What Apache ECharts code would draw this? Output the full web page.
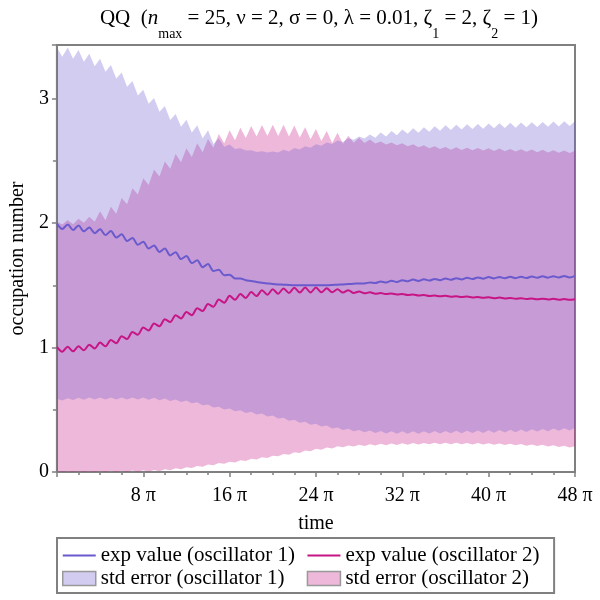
<!DOCTYPE html>
<html><head><meta charset="utf-8">
<script src="https://cdn.jsdelivr.net/npm/echarts@6/dist/echarts.min.js"></script>
<style>html,body{margin:0;padding:0;background:#fff}#c{width:600px;height:600px}</style>
</head><body><div id="c"></div>
<script>
// time in units of pi
const times = [0,0.5,1,1.5,2,2.5,3,3.5,4,4.5,5,5.5,6,6.5,7,7.5,8,8.5,9,9.5,10,10.5,11,11.5,12,12.5,13,13.5,14,14.5,15,15.5,16,16.5,17,17.5,18,18.5,19,19.5,20,20.5,21,21.5,22,22.5,23,23.5,24,24.5,25,25.5,26,26.5,27,27.5,28,28.5,29,29.5,30,30.5,31,31.5,32,32.5,33,33.5,34,34.5,35,35.5,36,36.5,37,37.5,38,38.5,39,39.5,40,40.5,41,41.5,42,42.5,43,43.5,44,44.5,45,45.5,46,46.5,47,47.5,48];
const exp1 = [1.995,1.952,1.988,1.944,1.98,1.933,1.965,1.918,1.95,1.903,1.935,1.883,1.91,1.855,1.88,1.825,1.85,1.795,1.82,1.768,1.795,1.74,1.765,1.71,1.735,1.678,1.70,1.645,1.67,1.615,1.625,1.58,1.585,1.555,1.555,1.54,1.535,1.527,1.52,1.515,1.51,1.507,1.505,1.502,1.50,1.50,1.50,1.50,1.50,1.50,1.50,1.502,1.505,1.507,1.51,1.512,1.515,1.515,1.523,1.518,1.531,1.522,1.536,1.527,1.541,1.532,1.546,1.535,1.548,1.538,1.551,1.541,1.554,1.544,1.557,1.547,1.56,1.55,1.563,1.553,1.566,1.555,1.567,1.556,1.568,1.557,1.569,1.558,1.571,1.56,1.572,1.561,1.573,1.562,1.574,1.563,1.576];
const exp2 = [1.005,0.966,1.007,0.969,1.01,0.977,1.023,0.992,1.04,1.01,1.06,1.035,1.09,1.068,1.125,1.103,1.16,1.137,1.193,1.17,1.227,1.204,1.26,1.233,1.285,1.26,1.315,1.293,1.35,1.328,1.385,1.36,1.415,1.383,1.43,1.398,1.445,1.413,1.46,1.424,1.468,1.432,1.475,1.438,1.48,1.441,1.482,1.442,1.482,1.443,1.476,1.443,1.468,1.441,1.46,1.438,1.45,1.435,1.443,1.432,1.437,1.429,1.433,1.426,1.43,1.422,1.426,1.418,1.422,1.414,1.418,1.411,1.415,1.408,1.412,1.405,1.409,1.402,1.406,1.399,1.403,1.396,1.401,1.394,1.398,1.391,1.396,1.389,1.393,1.387,1.392,1.386,1.391,1.384,1.389,1.383,1.388];
const upper1 = [3.41,3.335,3.41,3.32,3.39,3.295,3.36,3.26,3.32,3.215,3.27,3.16,3.21,3.095,3.14,3.025,3.07,2.958,3.005,2.893,2.94,2.828,2.875,2.773,2.83,2.728,2.785,2.678,2.745,2.635,2.68,2.613,2.63,2.595,2.60,2.583,2.585,2.571,2.577,2.566,2.575,2.566,2.588,2.575,2.602,2.59,2.617,2.605,2.632,2.62,2.647,2.635,2.662,2.651,2.68,2.668,2.695,2.678,2.712,2.685,2.728,2.694,2.74,2.706,2.752,2.717,2.761,2.726,2.77,2.734,2.778,2.742,2.785,2.747,2.789,2.751,2.793,2.755,2.796,2.758,2.80,2.761,2.802,2.764,2.805,2.766,2.807,2.769,2.81,2.771,2.812,2.774,2.815,2.776,2.817,2.779,2.82];
const lower1 = [0.588,0.575,0.593,0.579,0.596,0.581,0.598,0.582,0.598,0.582,0.598,0.582,0.598,0.582,0.598,0.582,0.598,0.581,0.596,0.577,0.59,0.571,0.583,0.563,0.575,0.552,0.561,0.536,0.543,0.518,0.525,0.502,0.51,0.487,0.496,0.474,0.483,0.461,0.47,0.446,0.453,0.429,0.436,0.412,0.42,0.396,0.403,0.38,0.388,0.365,0.373,0.35,0.358,0.337,0.348,0.327,0.338,0.32,0.333,0.313,0.33,0.309,0.328,0.308,0.327,0.307,0.327,0.308,0.328,0.309,0.329,0.31,0.33,0.311,0.331,0.312,0.332,0.313,0.333,0.314,0.335,0.316,0.337,0.318,0.339,0.32,0.341,0.322,0.343,0.325,0.346,0.328,0.349,0.331,0.352,0.334,0.355];
const upper2 = [2.01,1.988,2.025,1.99,2.035,2.003,2.05,2.01,2.095,2.023,2.13,2.075,2.20,2.15,2.28,2.23,2.36,2.305,2.43,2.373,2.495,2.435,2.555,2.488,2.60,2.53,2.64,2.568,2.675,2.605,2.715,2.64,2.745,2.665,2.765,2.683,2.78,2.694,2.787,2.699,2.79,2.70,2.789,2.696,2.783,2.687,2.77,2.673,2.755,2.658,2.74,2.643,2.725,2.636,2.702,2.644,2.685,2.642,2.67,2.638,2.655,2.631,2.647,2.624,2.64,2.616,2.632,2.609,2.625,2.601,2.617,2.594,2.61,2.589,2.608,2.587,2.605,2.584,2.603,2.582,2.60,2.579,2.598,2.577,2.595,2.574,2.593,2.572,2.59,2.569,2.588,2.567,2.585,2.564,2.583,2.562,2.58];
const lower2 = [0.006,0,0.006,0,0.006,0,0.006,0,0.008,0,0.01,0,0.011,0,0.012,0.001,0.014,0.003,0.016,0.007,0.022,0.014,0.03,0.022,0.038,0.032,0.049,0.043,0.061,0.055,0.072,0.066,0.083,0.077,0.094,0.088,0.106,0.1,0.118,0.113,0.131,0.126,0.144,0.139,0.158,0.153,0.172,0.167,0.186,0.179,0.196,0.189,0.206,0.198,0.213,0.204,0.219,0.209,0.223,0.213,0.226,0.215,0.228,0.217,0.23,0.219,0.232,0.221,0.233,0.222,0.234,0.222,0.234,0.222,0.234,0.222,0.233,0.221,0.232,0.22,0.231,0.218,0.229,0.216,0.227,0.214,0.224,0.211,0.221,0.208,0.218,0.204,0.214,0.2,0.21,0.196,0.206];
const xTickLabels = ['', '8 π', '16 π', '24 π', '32 π', '40 π', '48 π'];
const yTickLabels = ['0', '1', '2', '3'];
const seriesNames = ['exp value (oscillator 1)', 'std error (oscillator 1)', 'exp value (oscillator 2)', 'std error (oscillator 2)'];

const FONT = 'Liberation Serif';
const C1 = '#6a5acd', C2 = '#c71585';
const F1 = 'rgba(106,90,205,0.3)', F2 = 'rgba(199,21,133,0.3)';
const GRAY = '#808080';

function band(name, lower, upper, fill) {
  const rows = times.map((t, i) => [t, lower[i], upper[i]]);
  return {
    type: 'custom', name: name, data: rows, encode: { x: 0, y: [1, 2] },
    itemStyle: { color: fill }, silent: true,
    renderItem: function (params, api) {
      if (params.dataIndex !== 0) return null;
      const pts = [];
      for (let i = 0; i < rows.length; i++) pts.push(api.coord([rows[i][0], rows[i][2]]));
      for (let i = rows.length - 1; i >= 0; i--) pts.push(api.coord([rows[i][0], rows[i][1]]));
      return { type: 'polygon', shape: { points: pts }, style: { fill: fill, stroke: null } };
    }
  };
}
function line(name, vals, color) {
  return {
    type: 'line', name: name, data: times.map((t, i) => [t, vals[i]]),
    symbol: 'none', showSymbol: false, smooth: 0.3,
    lineStyle: { color: color, width: 2 }, itemStyle: { color: color }
  };
}
const txt = { fontFamily: FONT, fontSize: 20, color: '#000' };
const chart = echarts.init(document.getElementById('c'), null, { renderer: 'canvas' });
chart.setOption({
  animation: false,
  backgroundColor: '#fff',
  title: {
    left: 314, top: 3, textAlign: 'center',
    text: '{a|QQ  (}{i|n}{s|max}{a| = 25, ν = 2, σ = 0, λ = 0.01, ζ}{s|1}{a| = 2, ζ}{s|2}{a| = 1)}',
    textStyle: {
      fontFamily: FONT, fontSize: 21, fontWeight: 'normal', color: '#000',
      rich: {
        a: { fontFamily: FONT, fontSize: 21, color: '#000', verticalAlign: 'top', lineHeight: 24 },
        i: { fontFamily: FONT, fontSize: 21, color: '#000', fontStyle: 'italic', verticalAlign: 'top', lineHeight: 24 },
        s: { fontFamily: FONT, fontSize: 14, color: '#000', verticalAlign: 'bottom', lineHeight: 33 }
      }
    }
  },
  grid: { left: 54, right: 25, top: 45, bottom: 128, show: true, borderColor: GRAY, borderWidth: 2, backgroundColor: 'transparent' },
  xAxis: {
    type: 'value', min: 0, max: 48, interval: 8,
    name: 'time', nameLocation: 'middle', nameGap: 42, nameTextStyle: txt,
    axisLine: { show: true, lineStyle: { color: GRAY, width: 2 } },
    axisTick: { show: true, length: 5, lineStyle: { color: GRAY, width: 1.5 } },
    minorTick: { show: true, splitNumber: 4, length: 3, lineStyle: { color: GRAY, width: 1.5 } },
    splitLine: { show: false },
    axisLabel: Object.assign({ margin: 14, formatter: v => xTickLabels[Math.round(v / 8)] || '' }, txt)
  },
  yAxis: {
    type: 'value', min: 0, max: 3.43, interval: 1,
    name: 'occupation number', nameLocation: 'middle', nameGap: 27, nameTextStyle: txt,
    axisLine: { show: true, lineStyle: { color: GRAY, width: 2 } },
    axisTick: { show: true, length: 5, lineStyle: { color: GRAY, width: 1.5 } },
    minorTick: { show: true, splitNumber: 2, length: 4, lineStyle: { color: GRAY, width: 1.5 } },
    splitLine: { show: false },
    axisLabel: Object.assign({ margin: 8, formatter: v => (Number.isInteger(v) && yTickLabels[v] !== undefined) ? yTickLabels[v] : '' }, txt)
  },
  legend: {
    orient: 'vertical', left: 57, top: 538, height: 50,
    padding: [7, 4, 4, 5], itemGap: 2, itemWidth: 33, itemHeight: 14,
    borderColor: GRAY, borderWidth: 2, backgroundColor: '#fff',
    formatter: name => name + '  ',
    textStyle: { fontFamily: FONT, fontSize: 21, color: '#000' },
    data: [
      { name: seriesNames[0], icon: 'path://M0,0H33V2H0Z', itemStyle: { color: C1 } },
      { name: seriesNames[1], icon: 'rect', itemStyle: { color: F1, borderColor: '#999', borderWidth: 1.5 } },
      { name: seriesNames[2], icon: 'path://M0,0H33V2H0Z', itemStyle: { color: C2 } },
      { name: seriesNames[3], icon: 'rect', itemStyle: { color: F2, borderColor: '#999', borderWidth: 1.5 } }
    ]
  },
  series: [
    band(seriesNames[3], lower2, upper2, F2),
    band(seriesNames[1], lower1, upper1, F1),
    line(seriesNames[0], exp1, C1),
    line(seriesNames[2], exp2, C2)
  ]
});
</script>
</body></html>
